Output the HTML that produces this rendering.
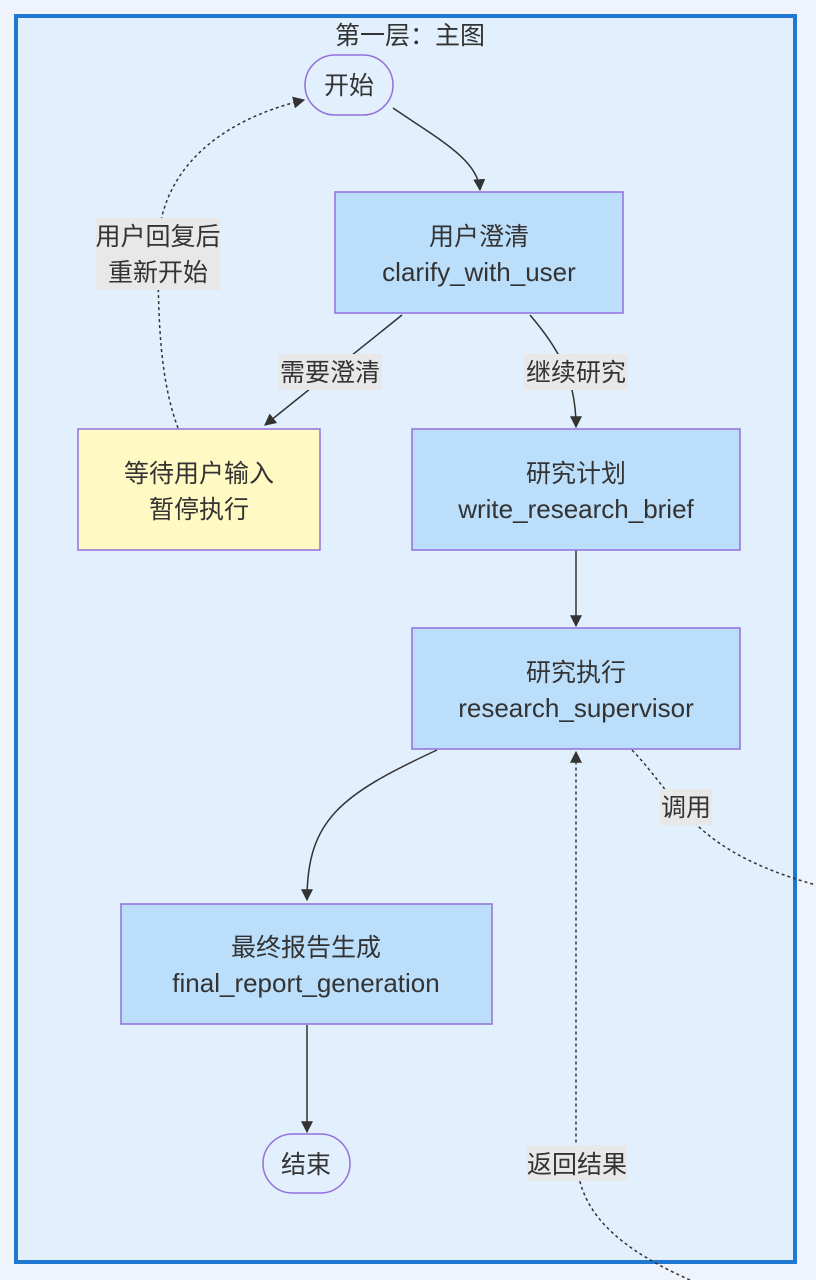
<!DOCTYPE html>
<html><head><meta charset="utf-8"><style>
html,body{margin:0;padding:0;background:#eef3fc;}
svg{display:block;}
text{font-family:"Liberation Sans","Noto Sans CJK SC",sans-serif;fill:#333;font-size:25px;}
text.l{font-size:26px;}
</style></head><body>
<svg width="816" height="1280" viewBox="0 0 816 1280" xmlns="http://www.w3.org/2000/svg">
<defs><marker id="a" viewBox="0 0 10 10" refX="9" refY="5" markerWidth="8" markerHeight="8" orient="auto"><path d="M0,0L10,5L0,10z" fill="#333"/></marker></defs>
<rect x="0" y="0" width="816" height="1280" fill="#eef3fc"/>
<rect x="16" y="16" width="779" height="1246" fill="#e1f0fc" stroke="#1f78d1" stroke-width="4"/>
<text x="410" y="44" text-anchor="middle" font-size="24">第一层：主图</text>

<g fill="none" stroke="#333" stroke-width="1.5">
<path d="M393,108 C440,140 478,160 480,190" marker-end="url(#a)"/>
<path d="M402,315 L265,425" marker-end="url(#a)"/>
<path d="M530,315 C560,350 576,380 576,427" marker-end="url(#a)"/>
<path d="M576,550 L576,626" marker-end="url(#a)"/>
<path d="M437,750 C340,795 307,820 307,900" marker-end="url(#a)"/>
<path d="M307,1025 L307,1132" marker-end="url(#a)"/>
<path d="M178,428 C160,380 158,320 158,250 C158,170 220,120 304,100" stroke-dasharray="3,3" marker-end="url(#a)"/>
<path d="M632,750 C680,800 690,850 816,885" stroke-dasharray="3,3"/>
<path d="M690,1280 C600,1240 576,1200 576,1150 L576,752" stroke-dasharray="3,3" marker-end="url(#a)"/>
</g>

<rect x="305" y="55" width="88" height="60" rx="30" fill="#e1f0fc" stroke="#9370db" stroke-width="1.5"/>
<text x="349" y="94" text-anchor="middle">开始</text>

<rect x="335" y="192" width="288" height="121" fill="#bbdefb" stroke="#9370db" stroke-width="1.5"/>
<text x="479" y="245" text-anchor="middle">用户澄清</text>
<text class="l" x="479" y="281" text-anchor="middle">clarify_with_user</text>

<rect x="78" y="429" width="242" height="121" fill="#fff9c4" stroke="#9370db" stroke-width="1.5"/>
<text x="199" y="482" text-anchor="middle">等待用户输入</text>
<text x="199" y="518" text-anchor="middle">暂停执行</text>

<rect x="412" y="429" width="328" height="121" fill="#bbdefb" stroke="#9370db" stroke-width="1.5"/>
<text x="576" y="482" text-anchor="middle">研究计划</text>
<text class="l" x="576" y="518" text-anchor="middle">write_research_brief</text>

<rect x="412" y="628" width="328" height="121" fill="#bbdefb" stroke="#9370db" stroke-width="1.5"/>
<text x="576" y="681" text-anchor="middle">研究执行</text>
<text class="l" x="576" y="717" text-anchor="middle">research_supervisor</text>

<rect x="121" y="904" width="371" height="120" fill="#bbdefb" stroke="#9370db" stroke-width="1.5"/>
<text x="306" y="956" text-anchor="middle">最终报告生成</text>
<text class="l" x="306" y="992" text-anchor="middle">final_report_generation</text>

<rect x="263" y="1134" width="87" height="59" rx="29.5" fill="#e1f0fc" stroke="#9370db" stroke-width="1.5"/>
<text x="306" y="1173" text-anchor="middle">结束</text>

<rect x="278" y="354" width="104" height="36" fill="#e8e8e8"/>
<text x="330" y="381" text-anchor="middle">需要澄清</text>
<rect x="524" y="354" width="104" height="36" fill="#e8e8e8"/>
<text x="576" y="381" text-anchor="middle">继续研究</text>
<rect x="96" y="218" width="124" height="72" fill="#e8e8e8"/>
<text x="158" y="245" text-anchor="middle">用户回复后</text>
<text x="158" y="281" text-anchor="middle">重新开始</text>
<rect x="660" y="789" width="52" height="36" fill="#e8e8e8"/>
<text x="686" y="816" text-anchor="middle">调用</text>
<rect x="527" y="1145" width="100" height="36" fill="#e8e8e8"/>
<text x="577" y="1173" text-anchor="middle">返回结果</text>
</svg>
</body></html>
